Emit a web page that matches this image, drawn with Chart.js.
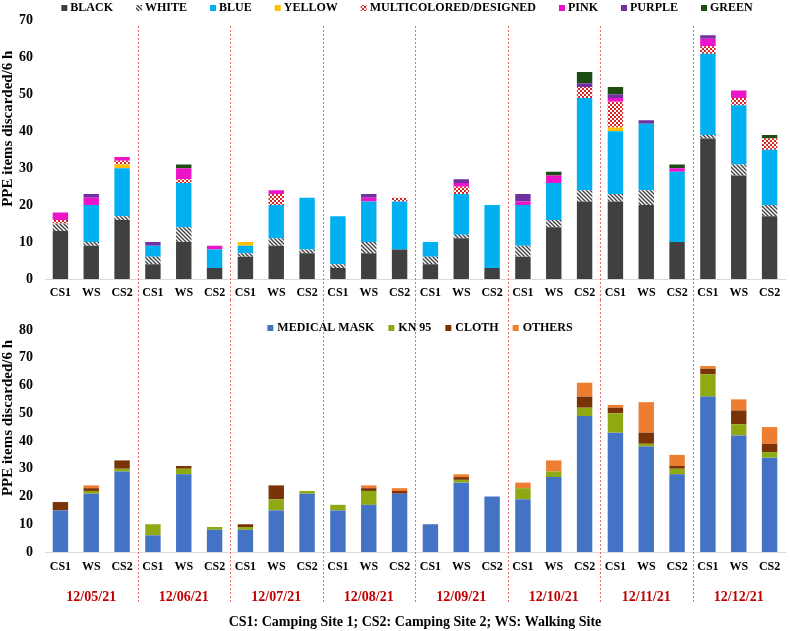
<!DOCTYPE html>
<html>
<head>
<meta charset="utf-8">
<script src="https://cdn.jsdelivr.net/npm/chart.js@4"></script>
<style>
html, body { margin: 0; padding: 0; background: #fff; }
#wrap { position: relative; width: 790px; height: 631px; }
canvas { position: absolute; left: 0; }
#colour_chart { top: 0; }
#mask_chart { top: 300px; }
</style>
</head>
<body>
<div id="wrap">
  <canvas id="colour_chart" width="790" height="300"></canvas>
  <canvas id="mask_chart" width="790" height="331"></canvas>
</div>
<script>
// chart data

var siteLabels = ['CS1','WS','CS2','CS1','WS','CS2','CS1','WS','CS2','CS1','WS','CS2',
                  'CS1','WS','CS2','CS1','WS','CS2','CS1','WS','CS2','CS1','WS','CS2'];
var dateLabels = ['12/05/21','12/06/21','12/07/21','12/08/21','12/09/21','12/10/21','12/11/21','12/12/21'];

// PPE colour (top chart)
var black  = [13,9,16, 4,10,3, 6,9,7, 3,7,8, 4,11,3, 6,14,21, 21,20,10, 38,28,17];
var white  = [2,1,1, 2,4,0, 1,2,1, 1,3,0, 2,1,0, 3,2,3, 2,4,0, 1,3,3];
var blue   = [0,10,13, 3,12,5, 2,9,14, 13,11,13, 4,11,17, 11,10,25, 17,18,19, 22,16,15];
var yellow = [0,0,1, 0,0,0, 1,0,0, 0,0,0, 0,0,0, 0,0,0, 1,0,0, 0,0,0];
var multi  = [1,0,1, 0,1,0, 0,3,0, 0,0,1, 0,2,0, 0,0,3, 7,0,0, 2,2,3];
var pink   = [2,2,1, 0,3,1, 0,1,0, 0,1,0, 0,1,0, 1,2,0, 1,0,1, 2,2,0];
var purple = [0,1,0, 1,0,0, 0,0,0, 0,1,0, 0,1,0, 2,0,1, 1,1,0, 1,0,0];
var green  = [0,0,0, 0,1,0, 0,0,0, 0,0,0, 0,0,0, 0,1,3, 2,0,1, 0,0,1];

// PPE type (bottom chart)
var medicalMask = [15,21,29, 6,28,8, 8,15,21, 15,17,21, 10,25,20, 19,27,49, 43,38,28, 56,42,34];
var kn95        = [0,1,1, 4,2,1, 1,4,1, 2,5,0, 0,1,0, 4,2,3, 7,1,2, 8,4,2];
var cloth       = [3,1,3, 0,1,0, 1,5,0, 0,1,1, 0,1,0, 0,0,4, 2,4,1, 2,5,3];
var others      = [0,1,0, 0,0,0, 0,0,0, 0,1,1, 0,1,0, 2,4,5, 1,11,4, 1,4,6];

var yTitle = 'PPE items discarded/6 h';
var caption = 'CS1: Camping Site 1; CS2: Camping Site 2; WS: Walking Site';
var FONT = '"Liberation Serif", "Times New Roman", serif';

Chart.defaults.font.family = FONT;
Chart.defaults.color = '#000';

// fill patterns for WHITE and MULTICOLORED
function hatch(fg, bg) {
  var c = document.createElement('canvas');
  c.width = 4; c.height = 4;
  var g = c.getContext('2d');
  g.fillStyle = bg; g.fillRect(0, 0, 4, 4);
  g.strokeStyle = fg; g.lineWidth = 1.4;
  g.beginPath();
  g.moveTo(-1, -1); g.lineTo(5, 5);
  g.moveTo(3, -1); g.lineTo(5, 1);
  g.moveTo(-1, 3); g.lineTo(1, 5);
  g.stroke();
  return g.createPattern(c, 'repeat');
}
function checker(fg, bg) {
  var c = document.createElement('canvas');
  c.width = 4; c.height = 4;
  var g = c.getContext('2d');
  g.fillStyle = fg; g.fillRect(0, 0, 4, 4);
  g.fillStyle = bg; g.fillRect(0, 0, 2, 2); g.fillRect(2, 2, 2, 2);
  return g.createPattern(c, 'repeat');
}

function set(label, data, color) {
  return { label: label, data: data, backgroundColor: color, xAxisID: 'x', borderWidth: 0 };
}

// dashed red lines between the days
var separators = {
  id: 'separators',
  beforeDatasetsDraw: function(chart, args, opts) {
    var x = chart.scales.x, ctx = chart.ctx;
    ctx.save();
    ctx.strokeStyle = '#e46c6c';
    ctx.lineWidth = 1;
    ctx.setLineDash([2, 2]);
    for (var i = 3; i < siteLabels.length; i += 3) {
      var px = Math.round((x.getPixelForValue(i - 1) + x.getPixelForValue(i)) / 2) + 0.5;
      ctx.beginPath();
      ctx.moveTo(px, opts.top);
      ctx.lineTo(px, opts.bottom);
      ctx.stroke();
    }
    ctx.restore();
  }
};

// legend sitting on the top edge of the plot, plus the rotated y title
var boxLegend = {
  id: 'boxLegend',
  afterDraw: function(chart, args, opts) {
    var ctx = chart.ctx, area = chart.chartArea;
    ctx.save();
    ctx.font = 'bold ' + opts.size + 'px ' + FONT;
    ctx.textBaseline = 'middle';
    var items = chart.data.datasets.map(function(d) {
      return { text: d.label, fill: d.backgroundColor, w: ctx.measureText(d.label).width };
    });
    var total = opts.gap * (items.length - 1);
    items.forEach(function(it) { total += opts.box + opts.space + it.w; });
    var x = (area.left + area.right) / 2 - total / 2 + opts.shift;
    items.forEach(function(it) {
      ctx.fillStyle = it.fill;
      ctx.fillRect(x, opts.y - opts.box / 2, opts.box, opts.box);
      x += opts.box + opts.space;
      ctx.fillStyle = '#000';
      ctx.fillText(it.text, x, opts.y);
      x += it.w + opts.gap;
    });

    // y axis title, sits a little above the middle as in the figure
    ctx.font = 'bold 15px ' + FONT;
    ctx.textAlign = 'center';
    ctx.translate(8.5, (area.top + area.bottom) / 2 + opts.titleShift);
    ctx.rotate(-Math.PI / 2);
    ctx.fillText(yTitle, 0, 0);
    ctx.restore();
  }
};

function yAxis(max) {
  return {
    stacked: true, min: 0, max: max,
    ticks: { stepSize: 10, padding: 12, font: { size: 14, weight: 'bold' } },
    grid: { display: false, drawTicks: false },
    border: { display: false },
    afterFit: function(s) { s.width = 45; }
  };
}

function xAxis(h, pad) {
  return {
    stacked: true,
    grid: { display: true, drawOnChartArea: false, drawTicks: false },
    border: { display: true, color: '#d9d9d9', width: 1 },
    ticks: { padding: pad, autoSkip: false, maxRotation: 0, font: { size: 12, weight: 'bold' } },
    afterFit: function(s) { s.height = h; }
  };
}

const config1 = {
  type: 'bar',
  data: {
    labels: siteLabels,
    datasets: [
      set('BLACK', black, '#404040'),
      set('WHITE', white, hatch('#404040', '#ffffff')),
      set('BLUE', blue, '#00b0f0'),
      set('YELLOW', yellow, '#ffc000'),
      set('MULTICOLORED/DESIGNED', multi, checker('#d82424', '#ffffff')),
      set('PINK', pink, '#ec14c8'),
      set('PURPLE', purple, '#7030a0'),
      set('GREEN', green, '#1d4d12')
    ]
  },
  options: {
    responsive: false,
    animation: false,
    layout: { padding: { top: 9, right: 5, left: 0, bottom: 0 } },
    datasets: { bar: { categoryPercentage: 1, barPercentage: 0.5 } },
    scales: { x: xAxis(21, 7), y: yAxis(70) },
    plugins: {
      legend: { display: false },
      tooltip: { enabled: false },
      separators: { top: 26, bottom: 300 },
      boxLegend: { y: 8, size: 12, box: 6, space: 3, gap: 23, shift: -8, titleShift: -21 }
    }
  },
  plugins: [separators, boxLegend]
};

const config2 = {
  type: 'bar',
  data: {
    labels: siteLabels,
    datasets: [
      set('MEDICAL MASK', medicalMask, '#4472c4'),
      set('KN 95', kn95, '#8fa912'),
      set('CLOTH', cloth, '#7a3306'),
      set('OTHERS', others, '#ed7d31')
    ]
  },
  options: {
    responsive: false,
    animation: false,
    layout: { padding: { top: 30, right: 5, left: 0, bottom: 0 } },
    datasets: { bar: { categoryPercentage: 1, barPercentage: 0.5 } },
    scales: {
      x: xAxis(28, 8),
      x2: {
        type: 'category', labels: dateLabels, position: 'bottom', offset: true,
        grid: { display: false, drawTicks: false },
        border: { display: false },
        ticks: { padding: 9, autoSkip: false, maxRotation: 0, color: '#c00000', font: { size: 14, weight: 'bold' } },
        title: { display: true, text: caption, color: '#000', font: { size: 14, weight: 'bold' }, padding: 0 },
        afterFit: function(s) { s.height = 51; }
      },
      y: yAxis(80)
    },
    plugins: {
      legend: { display: false },
      tooltip: { enabled: false },
      separators: { top: 0, bottom: 302 },
      boxLegend: { y: 28, size: 12, box: 6, space: 4, gap: 14, shift: 5, titleShift: -23 }
    }
  },
  plugins: [separators, boxLegend]
};

window.onload = function() {
  new Chart(document.getElementById('colour_chart').getContext('2d'), config1);
  new Chart(document.getElementById('mask_chart').getContext('2d'), config2);
};
</script>
</body>
</html>
